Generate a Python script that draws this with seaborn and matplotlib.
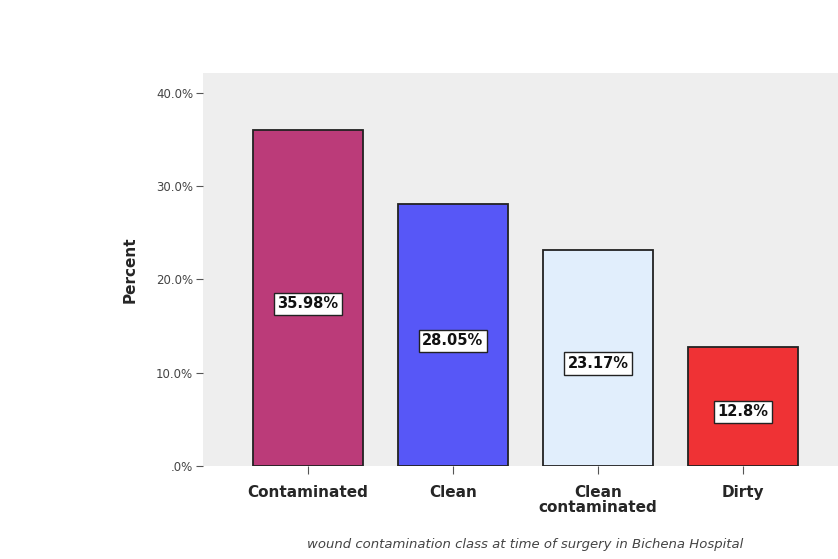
import matplotlib
matplotlib.use("Agg")
import matplotlib.pyplot as plt
import seaborn as sns
import pandas as pd
from matplotlib.ticker import FuncFormatter

categories = ["Contaminated", "Clean", "Clean\ncontaminated", "Dirty"]
percents = [35.98, 28.05, 23.17, 12.8]
value_labels = ["35.98%", "28.05%", "23.17%", "12.8%"]
colors = ["#BB3B79", "#5757F7", "#E1EEFC", "#EF3235"]

df = pd.DataFrame({"category": categories, "percent": percents})

sns.set_theme(style="white")
plt.rcParams['font.family'] = ['DejaVu Sans']

fig = plt.figure(figsize=(8.38, 5.59), dpi=100)
ax = fig.add_axes([203/838, 1-466/559, 1-203/838, (466-73)/559])
ax.set_facecolor("#EEEEEE")

sns.barplot(data=df, x="category", y="percent", hue="category", palette=colors,
            legend=False, width=0.765, saturation=1, edgecolor="#222222", linewidth=1.3, ax=ax)

ax.set_xlim(-0.724, 3.655)
ax.set_ylim(0, 42.1)
ax.set_yticks([0, 10, 20, 30, 40])
ax.yaxis.set_major_formatter(FuncFormatter(lambda v, p: ".0%" if v == 0 else f"{v:.1f}%"))

for sp in ax.spines.values():
    sp.set_visible(False)

ax.tick_params(axis="y", which="both", left=True, length=5, width=0.8, color="#555555",
               labelsize=8.5, labelcolor="#444444", pad=2)
ax.tick_params(axis="x", bottom=True, length=6, width=0.8, color="#555555",
               labelsize=11, pad=8)
for lab in ax.get_xticklabels():
    lab.set_fontweight("bold")
    lab.set_linespacing(0.95)

for i, (v, t) in enumerate(zip(percents, value_labels)):
    ax.text(i, v / 2 - 0.6, t, ha="center", va="center", fontsize=10.5, fontweight="bold",
            color="#111111",
            bbox=dict(boxstyle="square,pad=0.25", facecolor="white", edgecolor="#222222", linewidth=1))

ax.set_ylabel("Percent", fontsize=11, fontweight="bold")
ax.yaxis.set_label_coords(-(203-138)/(838-203), (466-270)/(466-73))
ax.set_xlabel("wound contamination class at time of surgery in Bichena Hospital",
              fontsize=9.5, style="italic", color="#444444")
ax.xaxis.set_label_coords((525-203)/(838-203), -(538-466)/(466-73))

fig.savefig("out.png", dpi=100, facecolor="white")
